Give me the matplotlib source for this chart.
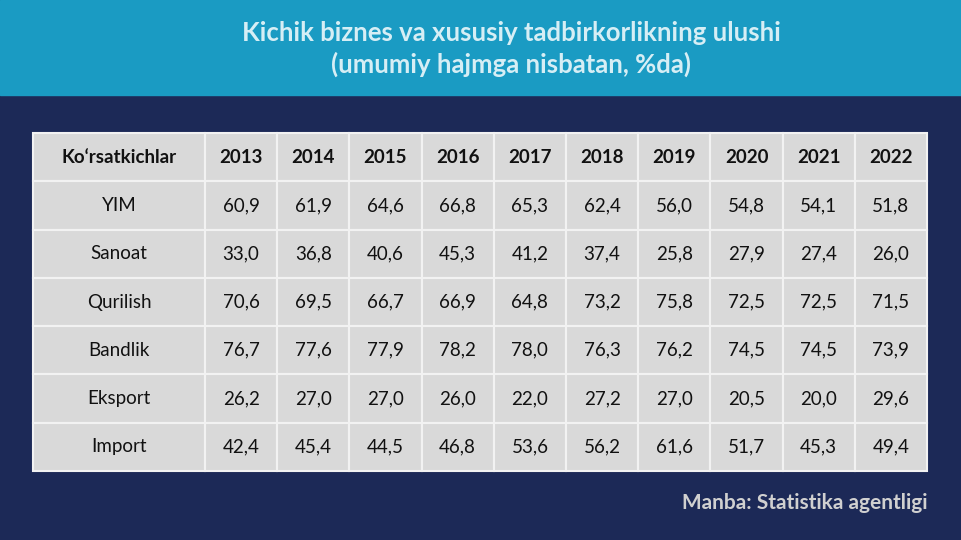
import matplotlib
matplotlib.use("Agg")
import matplotlib.pyplot as plt
from matplotlib.patches import Rectangle

years = ["2013","2014","2015","2016","2017","2018","2019","2020","2021","2022"]
indicators = ["YIM","Sanoat","Qurilish","Bandlik","Eksport","Import"]
yim      = [60.9,61.9,64.6,66.8,65.3,62.4,56.0,54.8,54.1,51.8]
sanoat   = [33.0,36.8,40.6,45.3,41.2,37.4,25.8,27.9,27.4,26.0]
qurilish = [70.6,69.5,66.7,66.9,64.8,73.2,75.8,72.5,72.5,71.5]
bandlik  = [76.7,77.6,77.9,78.2,78.0,76.3,76.2,74.5,74.5,73.9]
eksport  = [26.2,27.0,27.0,26.0,22.0,27.2,27.0,20.5,20.0,29.6]
importv  = [42.4,45.4,44.5,46.8,53.6,56.2,61.6,51.7,45.3,49.4]
rows = [yim, sanoat, qurilish, bandlik, eksport, importv]
header0 = "Ko‘rsatkichlar"
title = "Kichik biznes va xususiy tadbirkorlikning ulushi\n(umumiy hajmga nisbatan, %da)"
source = "Manba: Statistika agentligi"

plt.rcParams['font.family'] = ['Lato', 'DejaVu Sans']
fig = plt.figure(figsize=(9.61, 5.40), dpi=100)
ax = fig.add_axes([0, 0, 1, 1])
ax.set_xlim(0, 961); ax.set_ylim(540, 0); ax.axis('off')
fig.patch.set_facecolor('#1c2957')
ax.add_patch(Rectangle((0, 0), 961, 95, color='#1a9bc3', zorder=0))
ax.text(511, 49, title, ha='center', va='center', color='#d6eef5',
        fontsize=18.5, fontweight='bold', linespacing=1.35)

x0, x1, y0, y1 = 33, 927, 133, 471
w0 = 172
cw = (x1 - x0 - w0) / len(years)
rh = (y1 - y0) / (len(rows) + 1)
lw = 1.5
def cell(x, y, w, h, txt, bold=False):
    ax.add_patch(Rectangle((x, y), w, h, facecolor='#d9d9d9', edgecolor='#f2f2f2', lw=lw, zorder=1))
    ax.text(x + w/2, y + h/2, txt, ha='center', va='center', color='#111111',
            fontsize=13.5, fontweight='bold' if bold else 'normal', zorder=2)
cell(x0, y0, w0, rh, header0, True)
for j, yr in enumerate(years):
    cell(x0 + w0 + j*cw, y0, cw, rh, yr, True)
for i, (name, vals) in enumerate(zip(indicators, rows)):
    yy = y0 + (i+1)*rh
    cell(x0, yy, w0, rh, name)
    for j, v in enumerate(vals):
        cell(x0 + w0 + j*cw, yy, cw, rh, f"{v:.1f}".replace('.', ','))
ax.text(927, 503, source, ha='right', va='center', color='#d0d0d0', fontsize=15, fontweight='bold')
fig.savefig('out.png', dpi=100, facecolor=fig.get_facecolor())
